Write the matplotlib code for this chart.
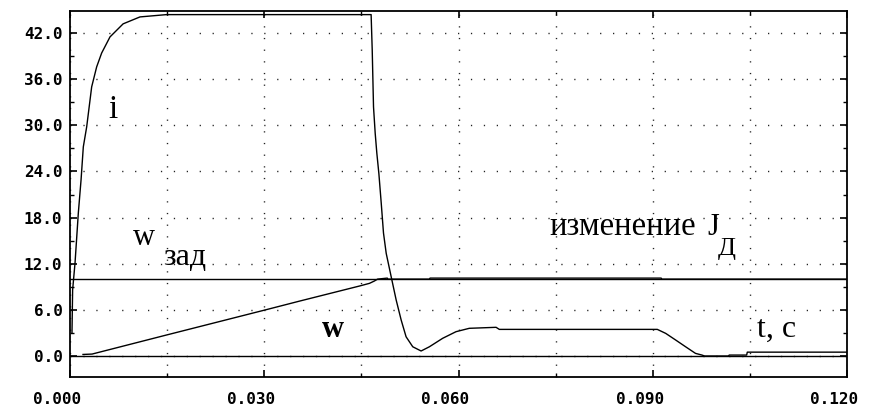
import matplotlib.pyplot as plt
import matplotlib.ticker as mticker
import matplotlib.transforms as mtransforms

# current i(t)
t_i = [0.0003, 0.0004, 0.00077, 0.00128, 0.0017, 0.00205, 0.00257, 0.00334,
       0.00411, 0.00488, 0.00617, 0.0082, 0.0108, 0.0149, 0.0465, 0.04667,
       0.04687, 0.04713, 0.04738, 0.0477, 0.04806, 0.04841, 0.04883, 0.0496,
       0.05037, 0.05114, 0.0519, 0.05293, 0.05422, 0.0555, 0.05755, 0.05961,
       0.06166, 0.0658, 0.0663, 0.0905, 0.0907, 0.0920, 0.09353, 0.09507,
       0.0966, 0.0976, 0.0980, 0.1017, 0.1018, 0.1045, 0.1046, 0.120]
i_vals = [3.0, 8.6, 12.1, 18.6, 22.9, 27.2, 29.8, 35.0,
          37.6, 39.4, 41.5, 43.2, 44.1, 44.4, 44.4, 39.8,
          32.4, 28.96, 26.4, 23.7, 19.9, 16.0, 13.35, 10.3,
          7.28, 4.68, 2.5, 1.2, 0.65, 1.2, 2.3, 3.16,
          3.6, 3.73, 3.46, 3.46, 3.46, 2.94, 2.08, 1.2,
          0.34, 0.12, 0.0, 0.0, 0.12, 0.12, 0.5, 0.5]

# speed w(t)
t_w = [0.002, 0.0034, 0.0149, 0.0301, 0.0355, 0.0447, 0.04625, 0.047,
       0.0475, 0.049, 0.0491, 0.0555, 0.0556, 0.0913, 0.0914, 0.120]
w_vals = [0.2, 0.25, 2.73, 5.98, 7.15, 9.1, 9.45, 9.75,
          10.0, 10.13, 10.0, 10.0, 10.13, 10.13, 10.0, 10.0]

# speed reference w_zad
t_ref = [0.0, 0.120]
w_ref = [10.0, 10.0]

x_ticks = [0.000, 0.030, 0.060, 0.090, 0.120]
x_labels = ['0.000', '0.030', '0.060', '0.090', '0.120']
y_ticks = [0.0, 6.0, 12.0, 18.0, 24.0, 30.0, 36.0, 42.0]
y_labels = ['0.0', '6.0', '12.0', '18.0', '24.0', '30.0', '36.0', '42.0']

fig = plt.figure(figsize=(8.69, 4.12), dpi=100)
ax = fig.add_axes([0.0806, 0.0850, 0.8941, 0.8883])

ax.plot(t_ref, w_ref, color='black', lw=1.0)
ax.axhline(0.0, color='black', lw=1.0)
ax.plot(t_w, w_vals, color='black', lw=1.0)
ax.plot(t_i, i_vals, color='black', lw=1.0)

ax.set_xlim(0.0, 0.120)
ax.set_ylim(-2.73, 44.87)

ax.set_xticks(x_ticks)
ax.set_xticklabels(x_labels)
ax.set_yticks(y_ticks)
ax.set_yticklabels(y_labels)
ax.xaxis.set_minor_locator(mticker.MultipleLocator(0.015))
ax.yaxis.set_minor_locator(mticker.MultipleLocator(3.0))

ax.tick_params(which='both', direction='in', top=True, right=True, color='black')
ax.tick_params(which='major', length=5, width=1.2)
ax.tick_params(which='minor', length=3, width=1.0)
ax.tick_params(axis='y', pad=5.5)
ax.tick_params(axis='x', pad=11)
for lab in ax.get_xticklabels() + ax.get_yticklabels():
    lab.set_fontfamily('DejaVu Sans Mono')
    lab.set_fontweight('bold')
    lab.set_fontsize(11.5)

# x labels sit a bit to the left of their ticks in the original
shift = mtransforms.ScaledTranslation(-13 / 100, 0, fig.dpi_scale_trans)
for lab in ax.get_xticklabels():
    lab.set_transform(lab.get_transform() + shift)

# dotted grid
ax.xaxis.grid(True, which='both', color='#222222', lw=1.0, linestyle=(0, (0.9, 7.5)))
ax.yaxis.grid(True, which='major', color='#222222', lw=1.0, linestyle=(0, (0.9, 8.4)))
ax.set_axisbelow(True)

for side in ['left', 'bottom', 'right', 'top']:
    ax.spines[side].set_linewidth(1.3)
    ax.spines[side].set_color('black')

serif = 'Liberation Serif'
ax.text(0.00663, 30.95, 'i', fontsize=24, family=serif, ha='center', va='baseline')
ax.text(0.00971, 14.43, 'w', fontsize=22, family=serif, va='baseline')
ax.text(0.01434, 11.83, 'зад', fontsize=23, family=serif, va='baseline')
ax.text(0.0740, 15.73, 'изменение', fontsize=23.5, family=serif, va='baseline')
ax.text(0.09836, 15.73, 'J', fontsize=22, family=serif, va='baseline')
ax.text(0.1001, 13.13, 'Д', fontsize=19, family=serif, va='baseline')
ax.text(0.03885, 2.47, 'w', fontsize=22, family=serif, va='baseline', fontweight='bold')
ax.text(0.1061, 2.51, 't, c', fontsize=23, family=serif, va='baseline')

fig.savefig('out.png', dpi=100)
